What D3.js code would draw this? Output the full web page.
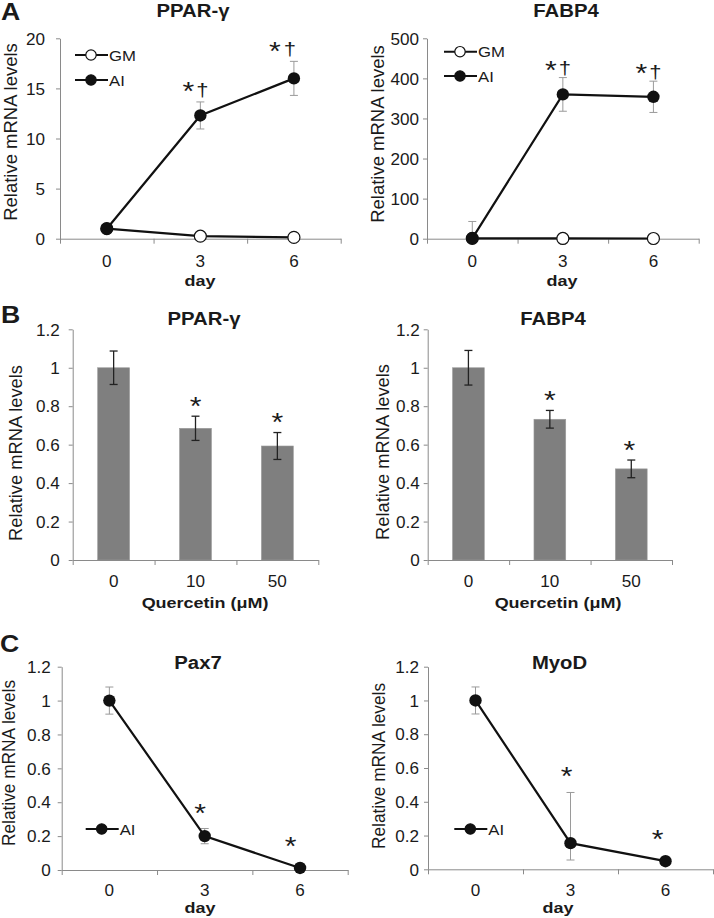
<!DOCTYPE html>
<html><head><meta charset="utf-8">
<script src="https://cdn.jsdelivr.net/npm/d3@7"></script>
<style>body{margin:0;background:#fff}svg{display:block}text{font-family:"Liberation Sans",Arial,sans-serif}</style>
</head><body><svg id="c" width="714" height="918"></svg>
<script>
// ---------------- data ----------------
const days = ["0", "3", "6"];
const quercetin = ["0", "10", "50"];
const ticksPPARA = [0, 5, 10, 15, 20];
const ticksFABPA = [0, 100, 200, 300, 400, 500];
const ticksRel = [0, 0.2, 0.4, 0.6, 0.8, 1, 1.2];

const pparA_GM = [1, 0.25, 0.13];
const pparA_AI = [1, 12.3, 16.0];
const pparA_AI_err = [0.1, 1.35, 1.7];
const fabpA_GM = [1, 0.6, 0.5];
const fabpA_AI = [1, 360, 354];
const fabpA_AI_err = [42, 42, 39];
const marksA = ["", "*†", "*†"];

const pparB = [1, 0.685, 0.593];
const pparB_err = [0.087, 0.063, 0.07];
const fabpB = [1, 0.732, 0.474];
const fabpB_err = [0.09, 0.046, 0.046];
const marksB = ["", "*", "*"];

const pax7 = [1, 0.2, 0.012];
const pax7_err = [0.08, 0.045, 0.005];
const myod = [1, 0.155, 0.048];
const myod_errUp = [0.08, 0.3, 0.01];
const myod_errDown = [0.08, 0.1, 0.01];
const marksC = ["", "*", "*"];

// ---------------- style ----------------
const SX = 1.16;
const TSX = 1.07;
const TXT = "#1a1a1a";
const AX = "#8a8a8a";
const FONT = '"Liberation Sans", Arial, sans-serif';
const svg = d3.select("#c");

function stext(p, x, y, s, size, weight, anchor, sx) {
  return p.append("text")
    .attr("transform", `translate(${x},${y}) scale(${sx || SX},1)`)
    .attr("text-anchor", anchor || "middle")
    .attr("font-size", size)
    .attr("font-weight", weight || "normal")
    .attr("fill", TXT)
    .text(s);
}

function drawAxes(g, cfg, ys, xBand) {
  const gy = g.append("g").attr("transform", `translate(${cfg.x0},0)`)
    .call(d3.axisLeft(ys).tickValues(cfg.ticks).tickSize(4).tickSizeOuter(0).tickFormat(d => String(d)));
  gy.attr("font-family", null).attr("font-size", null);
  gy.select(".domain").attr("stroke", AX);
  gy.selectAll(".tick line").attr("stroke", AX);
  gy.selectAll(".tick text")
    .attr("x", null).attr("y", 0).attr("dy", "0.36em")
    .attr("transform", `translate(${-cfg.ygap},0) scale(${TSX},1)`)
    .attr("font-size", 16).attr("fill", TXT).attr("font-family", FONT);

  const xLin = d3.scaleLinear().domain([0, 3]).range([cfg.x0, cfg.x1]);
  const gx = g.append("g").attr("transform", `translate(0,${cfg.y0})`)
    .call(d3.axisBottom(xLin).tickValues([0, 1, 2, 3]).tickSize(5).tickSizeOuter(0).tickFormat(""));
  gx.select(".domain").attr("stroke", AX);
  gx.selectAll(".tick line").attr("stroke", AX);

  const gl = g.append("g").attr("transform", `translate(0,${cfg.y0})`)
    .call(d3.axisBottom(xBand).tickSize(0).tickPadding(0));
  gl.attr("font-family", null).attr("font-size", null);
  gl.select(".domain").remove();
  gl.selectAll(".tick text")
    .attr("y", cfg.xlabOff).attr("dy", null)
    .attr("transform", `scale(${TSX},1)`)
    .attr("font-size", 16).attr("fill", TXT).attr("font-family", FONT);

  stext(g, cfg.titleX, cfg.titleY, cfg.title, 17.5, "bold");
  stext(g, cfg.xtX, cfg.xtY, cfg.xtitle, 15.5, "bold");
  g.append("text")
    .attr("transform", `translate(${cfg.ylX},${cfg.ylY}) scale(1.04,1) rotate(-90)`)
    .attr("text-anchor", "middle").attr("font-size", cfg.ylSize).attr("fill", TXT)
    .text("Relative mRNA levels");
  if (cfg.letter) stext(g, cfg.letterX, cfg.letterY, cfg.letter, 23, "bold", "start");
}

function errBar(g, x, yTop, yBot, drawBotCap, color, w, cap) {
  g.append("line").attr("x1", x).attr("x2", x).attr("y1", yTop).attr("y2", yBot)
    .attr("stroke", color).attr("stroke-width", w);
  g.append("line").attr("x1", x - cap).attr("x2", x + cap).attr("y1", yTop).attr("y2", yTop)
    .attr("stroke", color).attr("stroke-width", w);
  if (drawBotCap)
    g.append("line").attr("x1", x - cap).attr("x2", x + cap).attr("y1", yBot).attr("y2", yBot)
      .attr("stroke", color).attr("stroke-width", w);
}

function annotate(g, x, cy, mark, starDx, dagDx) {
  if (!mark) return;
  const hasDag = mark.indexOf("†") >= 0;
  stext(g, x + starDx, cy + 13.5, "*", 26, "normal");
  if (hasDag) stext(g, x + dagDx, cy + 9, "†", 19, "normal");
}

function lineChart(cfg) {
  const g = svg.append("g");
  const xBand = d3.scaleBand().domain(cfg.cats).range([cfg.x0, cfg.x1]);
  const cx = d => xBand(d) + xBand.bandwidth() / 2;
  const ys = d3.scaleLinear().domain([0, cfg.ymax]).range([cfg.y0, cfg.y1]);
  drawAxes(g, cfg, ys, xBand);

  const ai = cfg.ai;
  ai.forEach((v, i) => {
    const up = cfg.errUp[i], dn = cfg.errDown[i];
    const lo = Math.max(0, v - dn);
    errBar(g, cx(cfg.cats[i]), ys(v + up), ys(lo), v - dn >= 0, "#9a9a9a", 1, 4);
  });

  const line = d3.line().x((d, i) => cx(cfg.cats[i])).y(d => ys(d));
  if (cfg.gm) {
    g.append("path").datum(cfg.gm).attr("d", line).attr("fill", "none")
      .attr("stroke", "#111").attr("stroke-width", 2.2);
  }
  g.append("path").datum(ai).attr("d", line).attr("fill", "none")
    .attr("stroke", "#111").attr("stroke-width", 2.2);
  if (cfg.gm) {
    g.selectAll(".gm").data(cfg.gm).enter().append("circle")
      .attr("cx", (d, i) => cx(cfg.cats[i])).attr("cy", d => ys(d)).attr("r", 6)
      .attr("fill", "#fff").attr("stroke", "#111").attr("stroke-width", 1.2);
  }
  g.selectAll(".ai").data(ai).enter().append("circle")
    .attr("cx", (d, i) => cx(cfg.cats[i])).attr("cy", d => ys(d)).attr("r", 6.2)
    .attr("fill", "#111");

  cfg.marks.forEach((m, i) => {
    const top = Math.min(ys(ai[i] + cfg.errUp[i]), ys(ai[i]) - 6);
    annotate(g, cx(cfg.cats[i]), top - cfg.markGap, m, cfg.starDx[i], cfg.dagDx[i]);
  });

  cfg.legend.forEach(L => {
    g.append("line").attr("x1", L.x - 16).attr("x2", L.x + 17).attr("y1", L.y).attr("y2", L.y)
      .attr("stroke", "#111").attr("stroke-width", 2);
    g.append("circle").attr("cx", L.x).attr("cy", L.y).attr("r", 5.2)
      .attr("fill", L.open ? "#fff" : "#111").attr("stroke", "#111").attr("stroke-width", 1.2);
    stext(g, L.x + 18, L.y + 5.5, L.label, 15.5, "normal", "start", 1.08);
  });
}

function barChart(cfg) {
  const g = svg.append("g");
  const xBand = d3.scaleBand().domain(cfg.cats).range([cfg.x0, cfg.x1]);
  const ys = d3.scaleLinear().domain([0, cfg.ymax]).range([cfg.y0, cfg.y1]);
  const bw = xBand.bandwidth() * 0.39;
  g.selectAll(".bar").data(cfg.vals).enter().append("rect")
    .attr("x", (d, i) => xBand(cfg.cats[i]) + (xBand.bandwidth() - bw) / 2)
    .attr("width", bw)
    .attr("y", d => ys(d)).attr("height", d => ys(0) - ys(d))
    .attr("fill", "#7f7f7f").attr("stroke", "#9c9c9c").attr("stroke-width", 0.6);
  drawAxes(g, cfg, ys, xBand);
  cfg.vals.forEach((v, i) => {
    const x = xBand(cfg.cats[i]) + xBand.bandwidth() / 2;
    errBar(g, x, ys(v + cfg.err[i]), ys(v - cfg.err[i]), true, "#222", 1.3, 4);
    annotate(g, x, ys(v + cfg.err[i]) - cfg.markGap, cfg.marks[i], cfg.starDx[i], 0);
  });
}

// ---------------- panels ----------------
lineChart({
  cats: days, x0: 60, x1: 340.7, y0: 238.7, y1: 38.3, ymax: 20, ticks: ticksPPARA, ygap: 15,
  xlabOff: 28, title: "PPAR-γ", titleX: 193, titleY: 17, xtitle: "day", xtX: 200, xtY: 285.5,
  ylX: 16.7, ylY: 132, ylSize: 18.5, letter: "A", letterX: 1, letterY: 20,
  ai: pparA_AI, gm: pparA_GM, errUp: pparA_AI_err, errDown: pparA_AI_err, marks: marksA,
  markGap: 15, starDx: [0, -12, -19], dagDx: [0, 2, -4],
  legend: [{x: 91, y: 55, label: "GM", open: true}, {x: 91, y: 80, label: "AI", open: false}]
});
lineChart({
  cats: days, x0: 427, x1: 698.7, y0: 238.7, y1: 38.3, ymax: 500, ticks: ticksFABPA, ygap: 8,
  xlabOff: 28, title: "FABP4", titleX: 566, titleY: 17, xtitle: "day", xtX: 562, xtY: 285.5,
  ylX: 384, ylY: 134, ylSize: 18.5,
  ai: fabpA_AI, gm: fabpA_GM, errUp: fabpA_AI_err, errDown: fabpA_AI_err, marks: marksA,
  markGap: 12.5, starDx: [0, -12, -12], dagDx: [0, 2, 2],
  legend: [{x: 460, y: 51.7, label: "GM", open: true}, {x: 460, y: 76, label: "AI", open: false}]
});
barChart({
  cats: quercetin, x0: 72.7, x1: 318.3, y0: 560, y1: 329.3, ymax: 1.2, ticks: ticksRel, ygap: 13,
  xlabOff: 27.3, title: "PPAR-γ", titleX: 204, titleY: 325, xtitle: "Quercetin (μM)", xtX: 205, xtY: 607.5,
  ylX: 21.7, ylY: 453, ylSize: 18.3, letter: "B", letterX: 1, letterY: 323.3,
  vals: pparB, err: pparB_err, marks: marksB, markGap: 15, starDx: [0, 0, 0]
});
barChart({
  cats: quercetin, x0: 427.7, x1: 672, y0: 560, y1: 329.3, ymax: 1.2, ticks: ticksRel, ygap: 8,
  xlabOff: 27.3, title: "FABP4", titleX: 553, titleY: 325, xtitle: "Quercetin (μM)", xtX: 558, xtY: 607.5,
  ylX: 388.7, ylY: 452, ylSize: 18.3,
  vals: fabpB, err: fabpB_err, marks: marksB, markGap: 15, starDx: [0, 0, -2]
});
lineChart({
  cats: days, x0: 61.7, x1: 347.7, y0: 870, y1: 666.7, ymax: 1.2, ticks: ticksRel, ygap: 11,
  xlabOff: 26, title: "Pax7", titleX: 198, titleY: 669, xtitle: "day", xtX: 200, xtY: 913,
  ylX: 15, ylY: 763, ylSize: 17.3, letter: "C", letterX: 0, letterY: 651.7,
  ai: pax7, gm: null, errUp: pax7_err, errDown: pax7_err, marks: marksC,
  markGap: 20, starDx: [0, -4.5, -9.5], dagDx: [0, 0, 0],
  legend: [{x: 101.7, y: 829, label: "AI", open: false}]
});
lineChart({
  cats: days, x0: 428, x1: 713, y0: 869.3, y1: 666.7, ymax: 1.2, ticks: ticksRel, ygap: 9,
  xlabOff: 26.7, title: "MyoD", titleX: 559.5, titleY: 669, xtitle: "day", xtX: 558, xtY: 913,
  ylX: 385.3, ylY: 766, ylSize: 17.3,
  ai: myod, gm: null, errUp: myod_errUp, errDown: myod_errDown, marks: marksC,
  markGap: 21, starDx: [0, -4, -8], dagDx: [0, 0, 0],
  legend: [{x: 470.3, y: 829, label: "AI", open: false}]
});
</script>
</body></html>
